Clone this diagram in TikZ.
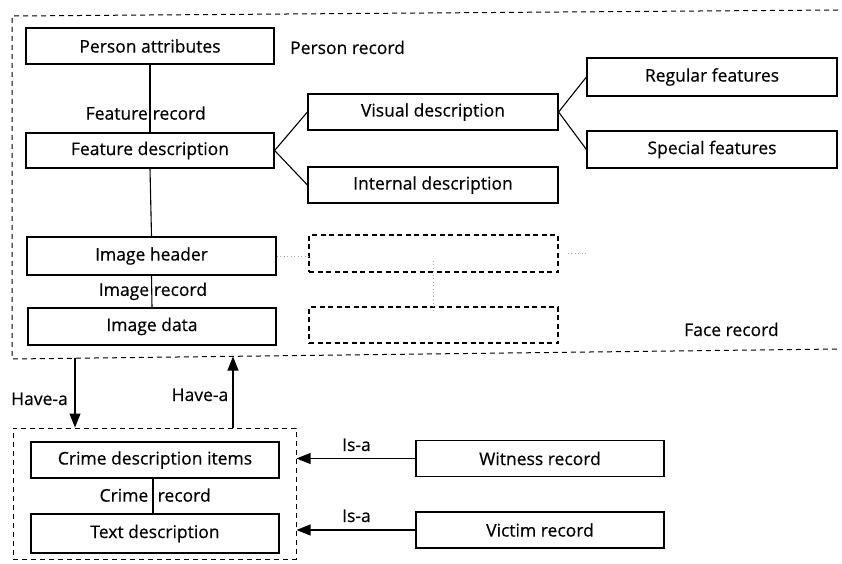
\documentclass[tikz,border=0pt]{standalone}
\usepackage{fontspec}
\newfontfamily\diagfont[FakeBold=0.45]{Open Sans}
\usetikzlibrary{arrows.meta,calc}
\begin{document}
\begin{tikzpicture}[x=1pt,y=-1pt,
  txt/.style={font=\diagfont\fontsize{17.5}{20}\selectfont},
  box/.style={draw, line width=1.2pt, minimum width=248pt, minimum height=36pt,
              inner sep=0pt, txt},
  ghost/.style={draw, dash pattern=on 5pt off 3.5pt, line width=1.1pt,
                minimum width=249pt, minimum height=37pt, inner sep=0pt},
  frame/.style={dash pattern=on 5pt off 4pt, line width=1pt},
  link/.style={line width=1.1pt},
  faint/.style={black!35, dash pattern=on 1pt off 2.5pt, line width=0.7pt},
  lbl/.style={txt, inner sep=0pt},
  arr/.style={line width=1.1pt, -{Triangle[length=14pt,width=11pt]}}
]
\useasboundingbox (0,0) rectangle (842,564);

% ---------- Face record (open dashed frame) ----------
\coordinate (ftl) at (12,16);
\coordinate (ftr) at (838,10);
\coordinate (fbl) at (12,359);
\coordinate (fbr) at (838,349);
\draw[frame] (ftr) -- (ftl) -- (fbl) -- (fbr);

% ---------- Person record ----------
\node[box] (pa) at (150,46) {Person attributes};
\node[lbl, anchor=base west] (prl) at (290,54) {Person record};

% ---------- Feature record ----------
\node[box, minimum height=35pt] (fd) at (150,150.5) {Feature description};
\node[box, minimum width=250pt] (vd) at (433,112) {Visual description};
\node[box, minimum width=250pt] (idesc) at (433,185) {Internal description};
\node[box, minimum width=250pt, minimum height=38pt] (rf) at (712,77) {Regular features};
\node[box, minimum width=250pt, minimum height=37pt] (sf) at (712,149.5) {Special features};

\draw[link] (pa.south) -- (fd.north);
\coordinate (frm) at ($(pa.south)!0.78!(fd.north)$);
\node[lbl, anchor=mid east] (frl1) at ([xshift=-2pt]frm) {Feature};
\node[lbl, anchor=mid west] (frl2) at ([xshift=2.5pt]frm) {record};

\draw[link] (fd.east) -- (vd.west);
\draw[link] (fd.east) -- (idesc.west);
\draw[link] (vd.east) -- (rf.west);
\draw[link] (vd.east) -- (sf.west);

% ---------- Image record ----------
\node[box, minimum width=249pt, minimum height=38pt] (ih) at (151.5,256) {Image header};
\node[box, minimum height=37pt] (imd) at (152,326.5) {Image data};
\node[ghost] (g1) at (433.5,253.5) {};
\node[ghost, minimum height=36pt] (g2) at (433.5,325) {};

\draw[link] (fd.south) -- (ih.north);
\draw[link] (ih.south) -- (imd.north);
\coordinate (irm) at ($(ih.south)!0.57!(imd.north)$);
\node[lbl, anchor=mid east] (irl1) at ([xshift=-2.5pt]irm) {Image};
\node[lbl, anchor=mid west] (irl2) at ([xshift=2pt]irm) {record};

\draw[faint] (ih.east) -- (ih.east -| g1.west);
\draw[faint] ([xshift=9pt]g1.east) -- ([xshift=27pt]g1.east);
\draw[faint] ([yshift=12pt]g1.south) -- ([yshift=-4pt]g2.north);

\node[lbl, anchor=base west] (frec) at (684,336) {Face record};

% ---------- Crime record ----------
\node[draw, frame, minimum width=283pt, minimum height=131pt, inner sep=0pt]
  (crime) at (154.5,493.5) {};
\node[box] (cdi) at (155,460) {Crime description items};
\node[box, minimum height=39pt] (td) at (155,533.5) {Text description};
\draw[link] ([xshift=-2pt]cdi.south) -- ([xshift=-2pt]cdi.south |- td.north);
\coordinate (crm) at ($([xshift=-2pt]cdi.south)!0.6!([xshift=-2pt]cdi.south |- td.north)$);
\node[lbl, anchor=mid east] (crl1) at ([xshift=-4.5pt]crm) {Crime};
\node[lbl, anchor=mid west] (crl2) at ([xshift=4.5pt]crm) {record};

% ---------- Have-a links ----------
\coordinate (ha1) at (75,358);
\coordinate (ha2) at (233,356.5);
\draw[arr] (ha1) -- (ha1 |- crime.north);
\draw[arr] (ha2 |- crime.north) -- (ha2);
\node[lbl, anchor=base east] (hal1) at (68,405) {Have-a};
\node[lbl, anchor=base east] (hal2) at (228.5,401) {Have-a};

% ---------- Is-a links ----------
\node[box] (wr) at (540,458.5) {Witness record};
\node[box] (vr) at (540,530) {Victim record};
\draw[arr] (wr.west) -- (wr.west -| crime.east);
\draw[arr] (vr.west) -- (vr.west -| crime.east);
\node[lbl, anchor=base] (isa1) at (356.5,451) {Is-a};
\node[lbl, anchor=base] (isa2) at (356.5,522) {Is-a};

\end{tikzpicture}
\end{document}
